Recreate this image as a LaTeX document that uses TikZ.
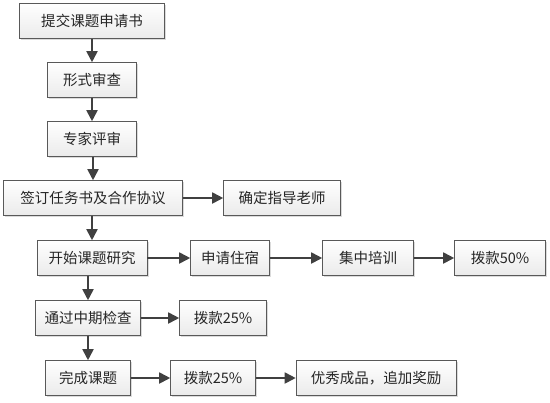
\documentclass[tikz,border=0pt]{standalone}
\usepackage{fontspec}
\newfontfamily\cjk{Noto Sans CJK SC}
\usepackage{tikz}
\usetikzlibrary{arrows.meta, shadows}

\definecolor{linegray}{HTML}{404040}
\tikzset{
  box/.style={draw=gray!70!black, line width=0.6bp, top color=white, bottom color=gray!16,
    drop shadow={shadow xshift=1.6bp, shadow yshift=-1.6bp, fill=gray!35, opacity=0.8},
    minimum height=35bp, inner sep=0pt, font=\cjk\fontsize{14.5bp}{16bp}\selectfont, text=black!85},
  arr/.style={draw=linegray, line width=1.8bp, -{Triangle[length=11bp, width=11bp]}}
}

\begin{document}
\begin{tikzpicture}[x=1bp, y=-1bp]
  \useasboundingbox (0,0) rectangle (550,402);

  % ---- boxes: name/x/y/width/text ----
  \foreach \n/\x/\y/\w/\t in {
      tj/92/21/145/{提交课题申请书},
      xs/92/80/89/{形式审查},
      zj/92/139/89/{专家评审},
      qd/93/198/179/{签订任务书及合作协议},
      qdls/282/198/117/{确定指导老师},
      ks/92/258/110/{开始课题研究},
      zs/230/258/79/{申请住宿},
      px/368/258/91/{集中培训},
      bk50/500/258/91/{拨款50\%},
      zq/88/318/105/{通过中期检查},
      bkzq/223/318/87/{拨款25\%},
      wc/88/378/85/{完成课题},
      bkwc/213/378/85/{拨款25\%},
      yx/376/378/160/{优秀成品，追加奖励}} {
    \node[box, minimum width=\w bp] (\n) at (\x,\y) {\t};
  }

  % ---- main column ----
  \draw[arr] (tj) -- (xs);
  \draw[arr] (xs) -- (zj);
  \draw[arr] (zj.south -| qd.north) -- (qd.north);
  \draw[arr] (qd.south -| ks.north) -- (ks.north);
  \draw[arr] (ks.south -| zq.north) -- (zq.north);
  \draw[arr] (zq) -- (wc);

  % ---- side branches ----
  \draw[arr] (qd) -- (qdls);
  \draw[arr] (ks) -- (zs);
  \draw[arr] (zs) -- (px);
  \draw[arr] (px) -- (bk50);
  \draw[arr] (zq) -- (bkzq);
  \draw[arr] (wc) -- (bkwc);
  \draw[arr] (bkwc) -- (yx);
\end{tikzpicture}
\end{document}
